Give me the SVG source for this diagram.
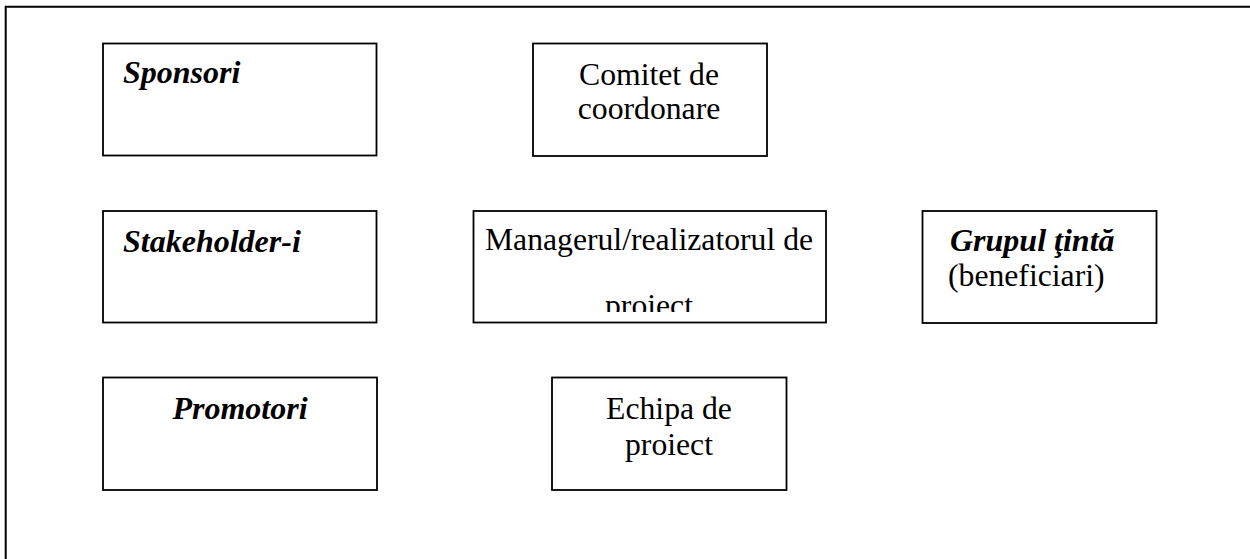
<svg xmlns="http://www.w3.org/2000/svg" width="1250" height="559" viewBox="0 0 1250 559">
  <style>
    .box { fill: #ffffff; stroke: #000000; stroke-width: 1.8; }
    .frame { fill: none; stroke: #000000; stroke-width: 2; }
    .t { font-family: "Liberation Serif", "Times New Roman", serif; font-size: 31.7px; fill: #000000; }
    .bi { font-weight: bold; font-style: italic; font-size: 32px; }
    .c { text-anchor: middle; }
  </style>
  <defs>
    <clipPath id="mgrClip">
      <rect x="474" y="212" width="351" height="100"/>
    </clipPath>
  </defs>

  <rect width="1250" height="559" fill="#ffffff"/>

  <!-- outer frame: only the top and left edges fall inside the page -->
  <path class="frame" d="M5.7,560 V6.7 H1251"/>

  <g id="sponsori">
    <rect class="box" x="103" y="43.5" width="273.5" height="112"/>
    <text class="t bi" x="123" y="83">Sponsori</text>
  </g>

  <g id="comitet">
    <rect class="box" x="533" y="43.5" width="234" height="112.5"/>
    <text class="t c" x="649" y="85">Comitet de</text>
    <text class="t c" x="649" y="119">coordonare</text>
  </g>

  <g id="stakeholderi">
    <rect class="box" x="103" y="211" width="273.5" height="111.5"/>
    <text class="t bi" x="123" y="252">Stakeholder-i</text>
  </g>

  <g id="manager">
    <rect class="box" x="473.5" y="211" width="352.5" height="111.5"/>
    <g clip-path="url(#mgrClip)">
      <text class="t c" x="649" y="250">Managerul/realizatorul de</text>
      <text class="t c" x="649" y="316">proiect</text>
    </g>
  </g>

  <g id="grupul-tinta">
    <rect class="box" x="922.5" y="211" width="234" height="112"/>
    <text class="t bi" x="950" y="251">Grupul ţintă</text>
    <text class="t" x="948" y="286">(beneficiari)</text>
  </g>

  <g id="promotori">
    <rect class="box" x="103" y="377.5" width="274" height="112.5"/>
    <text class="t bi c" x="240" y="419">Promotori</text>
  </g>

  <g id="echipa">
    <rect class="box" x="552" y="377.5" width="234.5" height="112.5"/>
    <text class="t c" x="669" y="419">Echipa de</text>
    <text class="t c" x="669" y="455">proiect</text>
  </g>

  <g id="connectors"/>
</svg>
